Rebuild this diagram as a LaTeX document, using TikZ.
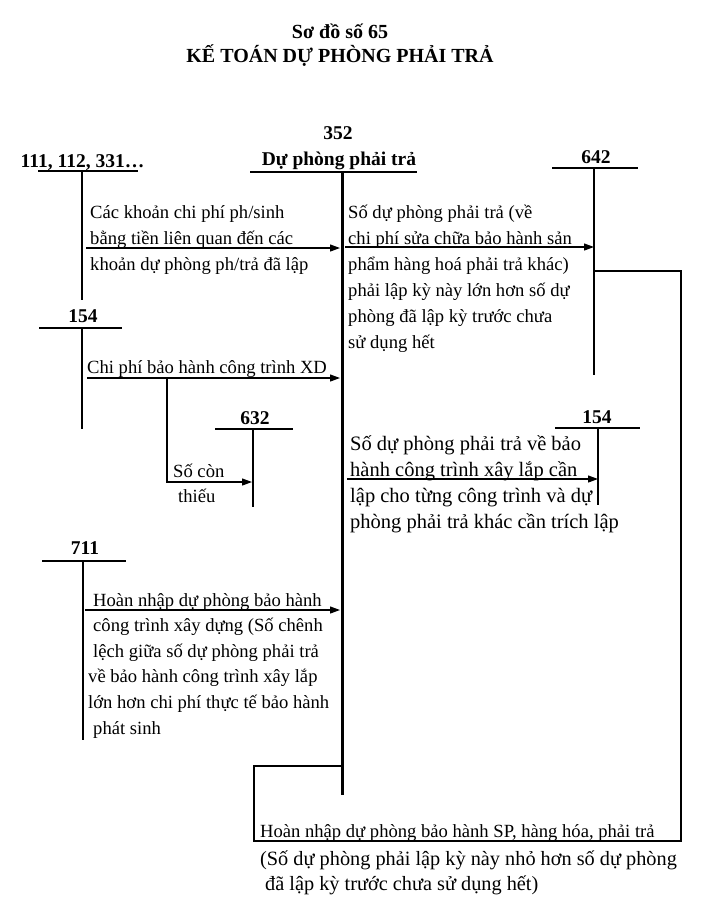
\documentclass[tikz,border=0pt]{standalone}
\usepackage{fontspec}
\setmainfont{Liberation Serif}
\usetikzlibrary{arrows.meta}
\begin{document}
\begin{tikzpicture}[x=1pt,y=-1pt,
  ttl/.style={font=\fontsize{20}{24}\selectfont\bfseries, inner sep=0pt},
  lbl/.style={font=\fontsize{19.5}{23}\selectfont\bfseries, inner sep=0pt},
  txt/.style={font=\fontsize{18.6}{26}\selectfont, align=left, inner sep=0pt, anchor=base west},
  acc/.style={line width=1.2pt},
  arr/.style={line width=1.2pt, -{Triangle[length=10pt,width=7pt]}},
  main/.style={line width=3pt}]
\useasboundingbox (0,0) rectangle (727,906);

% Title
\node[ttl] (t1) at (340,31) {Sơ đồ số 65};
\node[ttl] (t2) at (340,56) {KẾ TOÁN DỰ PHÒNG PHẢI TRẢ};

% 352
\node[lbl] (n352) at (338,133) {352};
\node[lbl, anchor=base] (n352b) at (339,165) {Dự phòng phải trả};
\coordinate (u352l) at (250,172);
\coordinate (u352r) at (417,172);
\coordinate (m352t) at (342,172);
\coordinate (m352b) at (342,795);
\draw[line width=2.4pt] (u352l) -- (u352r);
\draw[main] (m352t) -- (m352b);

% 111
\node[lbl, anchor=base] (n111) at (82.5,167) {111, 112, 331…};
\coordinate (h111l) at (38,171);
\coordinate (h111r) at (138,171);
\coordinate (v111t) at (82,171);
\coordinate (v111b) at (82,300);
\draw[acc] (h111l) -- (h111r);
\draw[acc] (v111t) -- (v111b);
\coordinate (a1s) at (86,248);
\coordinate (a1e) at (340,248);
\draw[arr] (a1s) -- (a1e);
\node[txt] (x1) at (90,270) {Các khoản chi phí ph/sinh\\bằng tiền liên quan đến các\\khoản dự phòng ph/trả đã lập};

% 642
\node[lbl] (n642) at (596,157) {642};
\coordinate (h642l) at (552,168);
\coordinate (h642r) at (638,168);
\coordinate (v642t) at (594,168);
\coordinate (v642b) at (594,375);
\draw[acc] (h642l) -- (h642r);
\draw[acc] (v642t) -- (v642b);
\coordinate (a2s) at (345,247);
\coordinate (a2e) at (594,247);
\draw[arr] (a2s) -- (a2e);
\node[txt] (x2) at (348,348) {Số dự phòng phải trả (về\\chi phí sửa chữa bảo hành sản\\phẩm hàng hoá phải trả khác)\\phải lập kỳ này lớn hơn số dự\\phòng đã lập kỳ trước chưa\\sử dụng hết};

% return loop 642 -> 352
\coordinate (r1) at (594,271);
\coordinate (r2) at (681,271);
\coordinate (r3) at (681,841);
\coordinate (r4) at (254,841);
\coordinate (r5) at (254,766);
\coordinate (r6) at (342,766);
\draw[acc] (r1) -- (r2) -- (r3) -- (r4) -- (r5) -- (r6);
\node[txt] (x7) at (260,837) {Hoàn nhập dự phòng bảo hành SP, hàng hóa, phải trả};
\node[txt, font=\fontsize{20.3}{25}\selectfont] (x8) at (260,890) {(Số dự phòng phải lập kỳ này nhỏ hơn số dự phòng\\\hspace*{5pt}đã lập kỳ trước chưa sử dụng hết)};

% 154 (a)
\node[lbl] (n154a) at (83,316) {154};
\coordinate (h154al) at (39,328);
\coordinate (h154ar) at (122,328);
\coordinate (v154at) at (82,328);
\coordinate (v154ab) at (82,429);
\draw[acc] (h154al) -- (h154ar);
\draw[acc] (v154at) -- (v154ab);
\coordinate (a3s) at (87,378);
\coordinate (a3e) at (340,378);
\draw[arr] (a3s) -- (a3e);
\node[txt] (x3) at (87,373) {Chi phí bảo hành công trình XD};

% branch to 632
\coordinate (b1) at (167,378);
\coordinate (b2) at (167,482);
\coordinate (b3) at (252,482);
\draw[arr] (b1) -- (b2) -- (b3);
\node[txt, font=\fontsize{18.6}{25}\selectfont] (x4) at (173,502) {Số còn\\\hspace*{5pt}thiếu};

% 632
\node[lbl] (n632) at (255,418) {632};
\coordinate (h632l) at (215,429);
\coordinate (h632r) at (293,429);
\coordinate (v632t) at (253,429);
\coordinate (v632b) at (253,507);
\draw[acc] (h632l) -- (h632r);
\draw[acc] (v632t) -- (v632b);

% 154 (b)
\node[lbl] (n154b) at (597,417) {154};
\coordinate (h154bl) at (555,428);
\coordinate (h154br) at (640,428);
\coordinate (v154bt) at (598,428);
\coordinate (v154bb) at (598,505);
\draw[acc] (h154bl) -- (h154br);
\draw[acc] (v154bt) -- (v154bb);
\coordinate (a4s) at (347,479);
\coordinate (a4e) at (598,479);
\draw[arr] (a4s) -- (a4e);
\node[txt, font=\fontsize{20.5}{26}\selectfont] (x5) at (350,528) {Số dự phòng phải trả về bảo\\hành công trình xây lắp cần\\lập cho từng công trình và dự\\phòng phải trả khác cần trích lập};

% 711
\node[lbl] (n711) at (85,548) {711};
\coordinate (h711l) at (42,561);
\coordinate (h711r) at (126,561);
\coordinate (v711t) at (83,561);
\coordinate (v711b) at (83,740);
\draw[acc] (h711l) -- (h711r);
\draw[acc] (v711t) -- (v711b);
\coordinate (a5s) at (85,610);
\coordinate (a5e) at (340,610);
\draw[arr] (a5s) -- (a5e);
\node[txt, font=\fontsize{18.6}{25.6}\selectfont] (x6) at (88,734) {\hspace*{5pt}Hoàn nhập dự phòng bảo hành\\\hspace*{5pt}công trình xây dựng (Số chênh\\\hspace*{5pt}lệch giữa số dự phòng phải trả\\về bảo hành công trình xây lắp\\lớn hơn chi phí thực tế bảo hành\\\hspace*{5pt}phát sinh};
\end{tikzpicture}
\end{document}
